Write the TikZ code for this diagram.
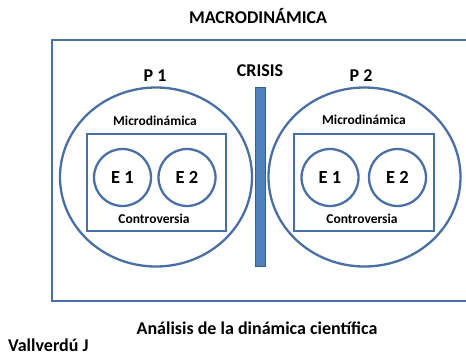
\documentclass[tikz,border=0pt]{standalone}
\usepackage{fontspec}
\setmainfont{Carlito}
\usetikzlibrary{shapes.geometric}
\definecolor{lineblue}{HTML}{4A6FA5}
\definecolor{barfill}{HTML}{4F81BD}
\definecolor{bardraw}{HTML}{385D8A}
\tikzset{
  bigcirc/.style={draw=lineblue, line width=2.3pt, ellipse, minimum width=192pt, minimum height=179pt, inner sep=0pt},
  ecirc/.style={draw=lineblue, line width=2.3pt, circle, minimum size=57pt, inner sep=0pt, font=\bfseries\fontsize{18.5}{20}\selectfont},
  innerbox/.style={draw=lineblue, line width=2.3pt},
  lbl/.style={font=\bfseries\fontsize{13.5}{15}\selectfont, inner sep=0pt},
  big/.style={font=\bfseries\fontsize{18}{20}\selectfont, inner sep=0pt},
}
\begin{document}
\begin{tikzpicture}[x=1pt,y=-1pt]
\useasboundingbox (0,0) rectangle (466,359);
\clip (0,0) rectangle (466,359);
\fill[white] (0,0) rectangle (466,359);
% outer rectangle
\draw[lineblue, line width=2.3pt] (52,40) rectangle (480,301);
% titles
\node[big] (macro) at (258,16) {MACRODINÁMICA};
\node[big] (crisis) at (260,71) {CRISIS};
\node[big] (p1) at (155,76) {P 1};
\node[big] (p2) at (361,76) {P 2};
% crisis bar
\draw[fill=barfill, draw=bardraw, line width=1pt] (255,87) rectangle (265,266);
% P1
\node[bigcirc] (c1) at (156,177) {};
\draw[innerbox] (87,134) rectangle (226,231);
\node[lbl] (m1) at (155,121) {Microdinámica};
\node[lbl] (k1) at (154,219) {Controversia};
\node[ecirc] (e11) at (122.5,177.5) {E 1};
\node[ecirc] (e12) at (187,177.5) {E 2};
% P2
\node[bigcirc] (c2) at (364.5,177) {};
\draw[innerbox] (294,134) rectangle (434,231);
\node[lbl] (m2) at (364,120) {Microdinámica};
\node[lbl] (k2) at (362,219) {Controversia};
\node[ecirc] (e21) at (330,177.5) {E 1};
\node[ecirc] (e22) at (397.5,177.5) {E 2};
% bottom texts
\node[big] (ana) at (257,328) {Análisis de la dinámica científica};
\node[big, anchor=west] (auth) at (8,345) {Vallverdú J};
\end{tikzpicture}
\end{document}
